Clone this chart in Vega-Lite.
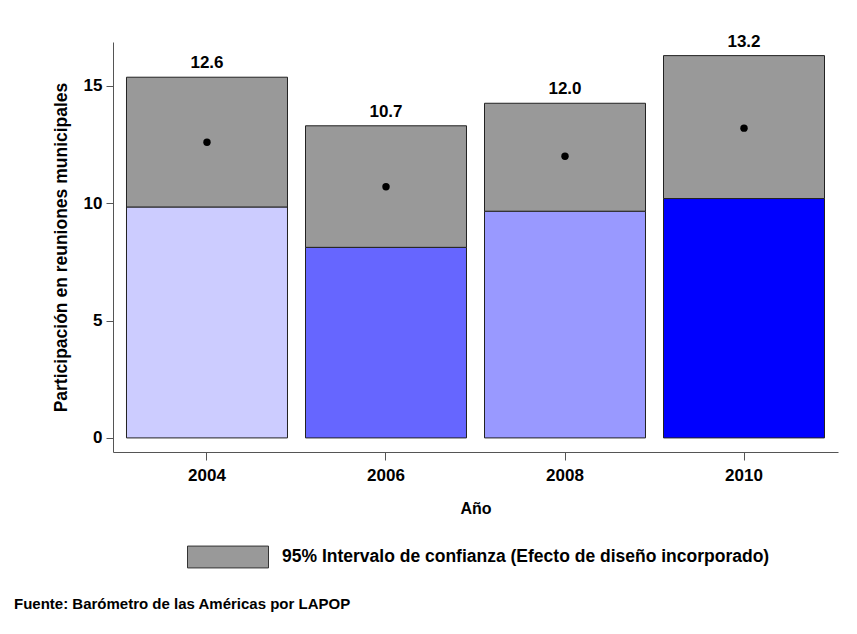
{
  "$schema": "https://vega.github.io/schema/vega-lite/v6.json",
  "width": 725,
  "height": 410,
  "autosize": {"type": "none"},
  "padding": {"left": 113, "top": 42, "right": 19, "bottom": 182},
  "background": "white",
  "config": {
    "font": "Liberation Sans",
    "view": {"stroke": null},
    "axis": {
      "labelFont": "Liberation Sans",
      "titleFont": "Liberation Sans",
      "labelFontSize": 17,
      "titleFontSize": 16,
      "labelFontWeight": "bold",
      "titleFontWeight": "bold",
      "labelColor": "black",
      "titleColor": "black",
      "domainColor": "#555555",
      "tickColor": "#555555",
      "grid": false
    }
  },
  "title": {
    "text": "Fuente: Barómetro de las Américas por LAPOP",
    "orient": "bottom",
    "anchor": "start",
    "frame": "group",
    "dx": -99,
    "offset": 27,
    "font": "Liberation Sans",
    "fontSize": 15,
    "fontWeight": "bold",
    "color": "black"
  },
  "data": {
    "values": [
      {"year": "2004", "lower": 9.84, "upper": 15.37, "mean": 12.6, "ci": "95% Intervalo de confianza (Efecto de diseño incorporado)"},
      {"year": "2006", "lower": 8.12, "upper": 13.30, "mean": 10.7, "ci": "95% Intervalo de confianza (Efecto de diseño incorporado)"},
      {"year": "2008", "lower": 9.66, "upper": 14.26, "mean": 12.0, "ci": "95% Intervalo de confianza (Efecto de diseño incorporado)"},
      {"year": "2010", "lower": 10.20, "upper": 16.29, "mean": 13.2, "ci": "95% Intervalo de confianza (Efecto de diseño incorporado)"}
    ]
  },
  "encoding": {
    "x": {
      "field": "year",
      "type": "nominal",
      "scale": {"paddingInner": 0.1006, "paddingOuter": 0.0754},
      "axis": {"title": "Año", "labelAngle": 0, "tickSize": 8, "labelPadding": 7, "titlePadding": 17}
    }
  },
  "layer": [
    {
      "mark": {"type": "bar", "stroke": "#222222", "strokeWidth": 1},
      "encoding": {
        "y": {
          "field": "lower",
          "type": "quantitative",
          "scale": {"domain": [-0.6, 16.87], "nice": false, "zero": false},
          "axis": {"title": "Participación en reuniones municipales", "titleFontSize": 17.5, "values": [0, 5, 10, 15], "tickSize": 7, "labelPadding": 4, "titlePadding": 13}
        },
        "y2": {"datum": 0},
        "fill": {
          "field": "year",
          "type": "nominal",
          "scale": {"domain": ["2004", "2006", "2008", "2010"], "range": ["#ccccff", "#6666ff", "#9999ff", "#0000ff"]},
          "legend": null
        }
      }
    },
    {
      "mark": {"type": "bar", "stroke": "#222222", "strokeWidth": 1},
      "encoding": {
        "y": {"field": "lower", "type": "quantitative"},
        "y2": {"field": "upper"},
        "color": {
          "field": "ci",
          "type": "nominal",
          "scale": {"range": ["#999999"]},
          "legend": {
            "title": null,
            "orient": "none",
            "legendX": 74,
            "legendY": 474,
            "padding": 0,
            "symbolType": "M-1,-0.27H1V0.27H-1Z",
            "symbolSize": 6561,
            "symbolStrokeColor": "#333333",
            "symbolStrokeWidth": 1,
            "symbolOpacity": 1,
            "labelFont": "Liberation Sans",
            "labelFontSize": 17.5,
            "labelFontWeight": "bold",
            "labelColor": "black",
            "labelOffset": 13,
            "labelLimit": 700
          }
        }
      }
    },
    {
      "mark": {"type": "point", "filled": true, "color": "black", "opacity": 1, "size": 55},
      "encoding": {"y": {"field": "mean", "type": "quantitative"}}
    },
    {
      "mark": {"type": "text", "dy": -14, "font": "Liberation Sans", "fontSize": 17, "fontWeight": "bold", "color": "black"},
      "encoding": {
        "y": {"field": "upper", "type": "quantitative"},
        "text": {"field": "mean", "type": "quantitative", "format": ".1f"}
      }
    }
  ]
}
